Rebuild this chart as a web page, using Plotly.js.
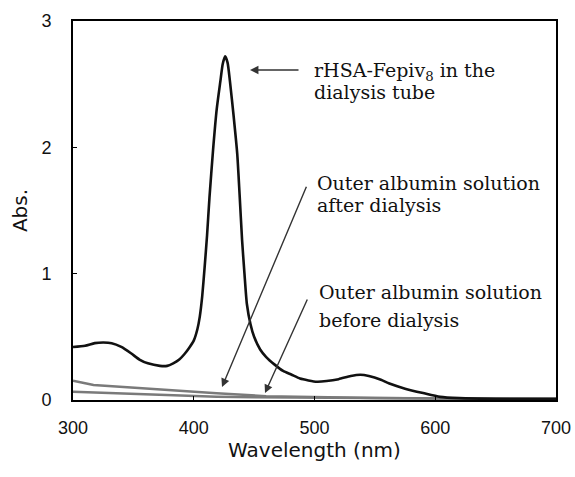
<!DOCTYPE html>
<html>
<head>
<meta charset="utf-8">
<script src="https://cdn.plot.ly/plotly-3.0.1.min.js"></script>
<style>html,body{margin:0;padding:0;background:#fff;}#chart{width:575px;height:477px;}</style>
</head>
<body>
<div id="chart"></div>
<script>
// Main spectrum: rHSA-Fepiv8 in the dialysis tube
var wlMain = [300,310,318,325,332,340,348,355,362,372,378,383,388,392,396,400,403,405,407,409,411,413,416,419,422,424,426,428,430,433,436,438,440,442,444,447,450,455,460,467,474,481,488,495,502,510,520,530,538,545,555,562,575,590,604,620,650,700];
var absMain = [0.42,0.43,0.45,0.455,0.45,0.42,0.37,0.32,0.29,0.27,0.27,0.29,0.32,0.36,0.41,0.47,0.56,0.66,0.82,1.05,1.3,1.6,1.98,2.3,2.52,2.66,2.72,2.67,2.52,2.25,1.95,1.62,1.27,1.0,0.76,0.6,0.5,0.4,0.34,0.28,0.23,0.2,0.17,0.155,0.145,0.15,0.165,0.19,0.2,0.19,0.16,0.13,0.09,0.055,0.025,0.015,0.01,0.01];

// Outer albumin solution after dialysis
var wlAfter = [300,317,345,372,405,419,460,500,550,600,650,700];
var absAfter = [0.153,0.119,0.10,0.085,0.066,0.053,0.03,0.022,0.016,0.012,0.01,0.008];

// Outer albumin solution before dialysis
var wlBefore = [300,350,400,419,450,500,550,600,650,700];
var absBefore = [0.066,0.05,0.035,0.026,0.022,0.018,0.014,0.011,0.009,0.008];

var xTicks = [300,400,500,600,700];
var yTicks = [0,1,2,3];

var labelMain = ["rHSA-Fepiv<sub>8</sub> in the", "dialysis tube"];
var labelAfter = ["Outer albumin solution", "after dialysis"];
var labelBefore = ["Outer albumin solution", "before dialysis"];

var grey = '#7a7a7a';
var traces = [
  {x: wlBefore, y: absBefore, mode: 'lines', line: {color: grey, width: 2.5}, showlegend: false, hoverinfo: 'skip'},
  {x: wlAfter, y: absAfter, mode: 'lines', line: {color: grey, width: 2.5}, showlegend: false, hoverinfo: 'skip'},
  {x: wlMain, y: absMain, mode: 'lines', line: {color: '#111', width: 2.6, shape: 'spline', smoothing: 0.6}, showlegend: false, hoverinfo: 'skip'}
];

var serif = {family: 'DejaVu Serif, Liberation Serif, serif', size: 19, color: '#111'};
function txt(t, x, y) {
  return {text: t, x: x, y: y, xref: 'x', yref: 'y', xanchor: 'left', yanchor: 'middle', showarrow: false, font: serif};
}
function arr(x, y, ax, ay) {
  return {text: '', x: x, y: y, ax: ax, ay: ay, xref: 'x', yref: 'y', axref: 'x', ayref: 'y',
          showarrow: true, arrowhead: 2, arrowsize: 1.2, arrowwidth: 1.4, arrowcolor: '#333'};
}

var annotations = [
  txt(labelMain[0], 497.9, 2.60), txt(labelMain[1], 497.9, 2.44),
  txt(labelAfter[0], 500.4, 1.72), txt(labelAfter[1], 500.4, 1.545),
  txt(labelBefore[0], 502, 0.855), txt(labelBefore[1], 502, 0.63),
  arr(446.6, 2.612, 488, 2.612),
  arr(423.4, 0.103, 493.8, 1.70),
  arr(459, 0.055, 494.6, 0.807)
];

var tickFont = {family: 'Liberation Sans, Arial, sans-serif', size: 18, color: '#111'};
var layout = {
  width: 575, height: 477,
  margin: {l: 73, r: 19, t: 21, b: 77},
  paper_bgcolor: '#fff', plot_bgcolor: '#fff',
  xaxis: {
    range: [300, 700], tickvals: xTicks, ticks: 'inside', ticklen: 4, tickcolor: '#000',
    showline: true, mirror: true, linecolor: '#000', linewidth: 2, showgrid: false, zeroline: false,
    tickfont: tickFont, ticklabelstandoff: 10,
    title: {text: 'Wavelength (nm)', font: {family: 'DejaVu Sans, sans-serif', size: 20, color: '#111'}, standoff: 4}
  },
  yaxis: {
    range: [0, 3], tickvals: yTicks, ticks: 'inside', ticklen: 4, tickcolor: '#000',
    showline: true, mirror: true, linecolor: '#000', linewidth: 2, showgrid: false, zeroline: false,
    tickfont: tickFont, ticklabelstandoff: 16,
    title: {text: 'Abs.', font: {family: 'DejaVu Sans, sans-serif', size: 20, color: '#111'}, standoff: 8}
  },
  annotations: annotations
};

Plotly.newPlot('chart', traces, layout, {displayModeBar: false, staticPlot: true});
</script>
</body>
</html>
